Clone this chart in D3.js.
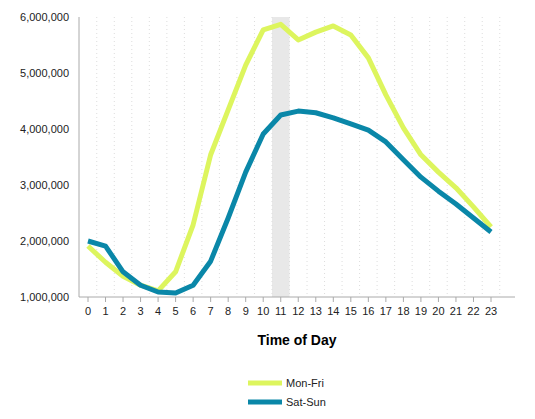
<!DOCTYPE html>
<html><head><meta charset="utf-8">
<script src="https://cdn.jsdelivr.net/npm/d3@7"></script>
<style>body{margin:0;background:#fff;font-family:"Liberation Sans",Arial,sans-serif}</style>
</head><body><div id="chart"></div>
<script>
var hours = d3.range(0, 24);
var monFri = [1.91,1.62,1.37,1.21,1.11,1.45,2.29,3.54,4.34,5.14,5.77,5.87,5.59,5.73,5.84,5.68,5.27,4.61,4.02,3.54,3.23,2.95,2.61,2.25].map(function(v){return v*1e6;});
var satSun = [2.0,1.91,1.45,1.21,1.09,1.07,1.21,1.64,2.41,3.23,3.91,4.25,4.32,4.29,4.20,4.09,3.98,3.77,3.45,3.14,2.89,2.66,2.41,2.16].map(function(v){return v*1e6;});
var yTicks = [1e6,2e6,3e6,4e6,5e6,6e6];
var highlightHour = 11;

var svg = d3.select("#chart").append("svg").attr("width",535).attr("height",419);
var x = d3.scaleLinear().domain([0,23]).range([88,491]);
var y = d3.scaleLinear().domain([1e6,6e6]).range([297,17]);
var step = x(1)-x(0);

svg.append("rect").attr("x",x(highlightHour)-step/2).attr("width",step)
  .attr("y",y(6e6)).attr("height",y(1e6)-y(6e6)).attr("fill","#e8e8e8");

svg.selectAll(".vg").data(hours).enter().append("line")
  .attr("x1",function(d){return x(d)+step/2;}).attr("x2",function(d){return x(d)+step/2;})
  .attr("y1",y(6e6)).attr("y2",y(1e6))
  .attr("stroke","#ddd").attr("stroke-dasharray","1,3");

var fmt = d3.format(",");
svg.selectAll(".yl").data(yTicks).enter().append("text")
  .attr("x",69).attr("y",function(d){return y(d)+4;}).attr("text-anchor","end")
  .attr("font-size",11).attr("fill","#222").text(fmt);

svg.append("line").attr("x1",79).attr("x2",79).attr("y1",y(6e6)).attr("y2",y(1e6)).attr("stroke","#aaa");
svg.append("line").attr("x1",79).attr("x2",515).attr("y1",y(1e6)).attr("y2",y(1e6)).attr("stroke","#aaa");
svg.selectAll(".xt").data(hours).enter().append("line")
  .attr("x1",function(d){return x(d);}).attr("x2",function(d){return x(d);})
  .attr("y1",297).attr("y2",302).attr("stroke","#aaa");
svg.selectAll(".xl").data(hours).enter().append("text")
  .attr("x",function(d){return x(d);}).attr("y",315).attr("text-anchor","middle")
  .attr("font-size",11).attr("fill","#222").text(function(d){return d;});
svg.append("text").attr("x",297).attr("y",345).attr("text-anchor","middle")
  .attr("font-size",14).attr("font-weight","bold").text("Time of Day");

var line = d3.line().x(function(d,i){return x(i);}).y(function(d){return y(d);});
svg.append("path").datum(monFri).attr("d",line).attr("fill","none")
  .attr("stroke","#ddf55e").attr("stroke-width",5).attr("stroke-linejoin","round");
svg.append("path").datum(satSun).attr("d",line).attr("fill","none")
  .attr("stroke","#0a87a8").attr("stroke-width",5).attr("stroke-linejoin","round");

var legend = [["Mon-Fri","#ddf55e"],["Sat-Sun","#0a87a8"]];
legend.forEach(function(l,i){
  var ly = 383 + i*19;
  svg.append("line").attr("x1",248).attr("x2",282).attr("y1",ly).attr("y2",ly)
    .attr("stroke",l[1]).attr("stroke-width",5);
  svg.append("text").attr("x",286).attr("y",ly+4).attr("font-size",11).attr("fill","#222").text(l[0]);
});
</script></body></html>
